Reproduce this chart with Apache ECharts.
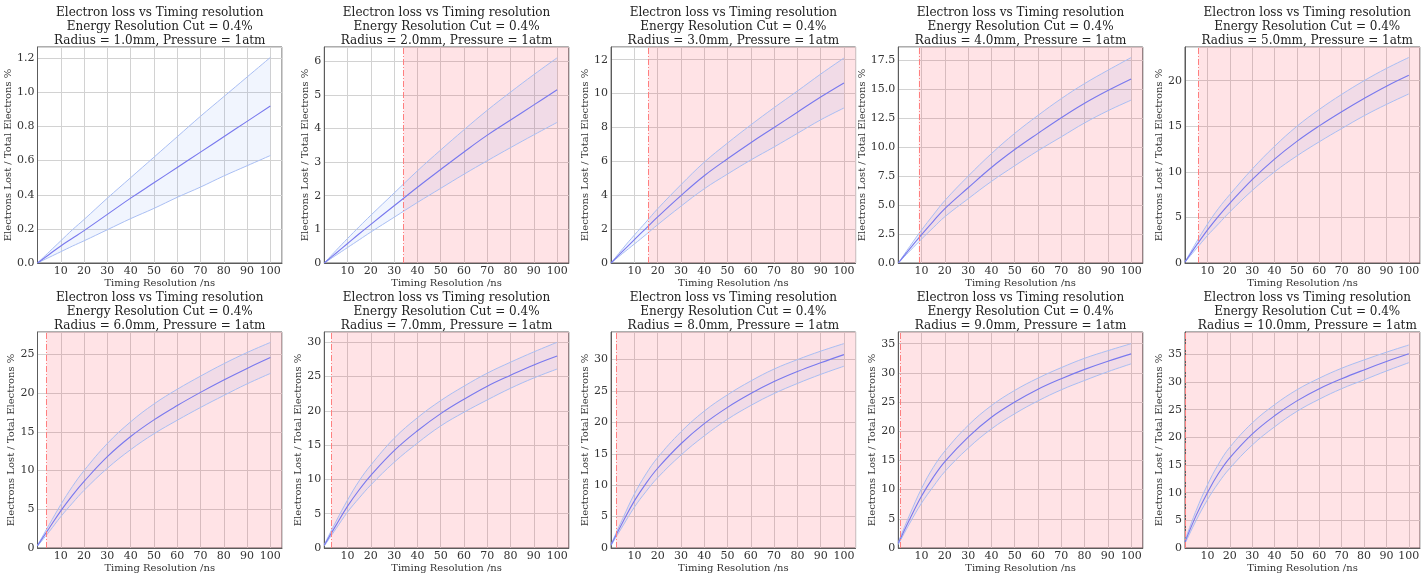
<!DOCTYPE html>
<html>
<head>
<meta charset="utf-8">
<script src="https://cdn.jsdelivr.net/npm/echarts@6/dist/echarts.min.js"></script>
<style>
  html, body { margin: 0; padding: 0; background: #ffffff; }
  #chart { width: 1423px; height: 574px; }
</style>
</head>
<body>
<div id="chart"></div>
<script>
// Timing resolution samples (ns)
const timingNs = [0, 5, 10, 15, 20, 30, 40, 50, 60, 70, 80, 90, 100];

// Chamber radius for each panel (mm)
const radiusMm = [1, 2, 3, 4, 5, 6, 7, 8, 9, 10];

// Electron loss (% of total electrons), one row per radius
const meanLoss = [
  [0, 0.05, 0.10, 0.145, 0.19, 0.285, 0.38, 0.47, 0.56, 0.65, 0.74, 0.83, 0.92],
  [0, 0.29, 0.58, 0.87, 1.15, 1.70, 2.25, 2.78, 3.30, 3.80, 4.25, 4.70, 5.15],
  [0, 0.70, 1.38, 2.05, 2.72, 3.98, 5.15, 6.15, 7.10, 8.00, 8.90, 9.80, 10.63],
  [0, 1.25, 2.45, 3.60, 4.70, 6.50, 8.25, 9.80, 11.20, 12.55, 13.80, 14.90, 15.90],
  [0.1, 1.9, 3.6, 5.15, 6.55, 9.15, 11.4, 13.35, 15.05, 16.6, 18.05, 19.4, 20.6],
  [0.3, 2.55, 4.8, 6.8, 8.6, 11.8, 14.4, 16.55, 18.4, 20.1, 21.7, 23.2, 24.6],
  [0.4, 3.3, 6.1, 8.5, 10.6, 14.2, 17.1, 19.6, 21.7, 23.6, 25.2, 26.7, 28.0],
  [0.5, 4.1, 7.5, 10.3, 12.7, 16.6, 19.8, 22.4, 24.6, 26.5, 28.1, 29.5, 30.8],
  [0.8, 5.0, 8.9, 12.1, 14.8, 19.0, 22.4, 25.0, 27.2, 29.0, 30.6, 32.0, 33.25],
  [1.1, 5.9, 10.0, 13.5, 16.3, 20.6, 23.9, 26.6, 28.8, 30.6, 32.2, 33.7, 35.1]
];

// Upper edge of the uncertainty band
const upperLoss = [
  [0, 0.065, 0.13, 0.195, 0.255, 0.38, 0.50, 0.62, 0.74, 0.86, 0.975, 1.09, 1.205],
  [0, 0.37, 0.73, 1.08, 1.42, 2.08, 2.74, 3.36, 3.96, 4.54, 5.08, 5.60, 6.10],
  [0, 0.85, 1.65, 2.42, 3.20, 4.62, 5.95, 7.08, 8.15, 9.17, 10.15, 11.15, 12.1],
  [0, 1.45, 2.85, 4.15, 5.40, 7.50, 9.45, 11.2, 12.75, 14.2, 15.5, 16.65, 17.75],
  [0.1, 2.25, 4.25, 6.0, 7.5, 10.3, 12.8, 15.0, 16.85, 18.5, 20.0, 21.35, 22.55],
  [0.35, 3.0, 5.6, 7.95, 10.0, 13.5, 16.3, 18.6, 20.5, 22.2, 23.8, 25.25, 26.55],
  [0.5, 3.85, 7.0, 9.8, 12.1, 16.0, 19.0, 21.5, 23.6, 25.5, 27.1, 28.6, 30.0],
  [0.6, 4.7, 8.6, 11.8, 14.4, 18.5, 21.8, 24.4, 26.6, 28.5, 30.0, 31.35, 32.55],
  [1.0, 5.8, 10.2, 13.8, 16.6, 21.0, 24.4, 27.0, 29.1, 30.9, 32.5, 33.8, 35.0],
  [1.4, 6.8, 11.4, 15.2, 18.2, 22.6, 25.9, 28.6, 30.7, 32.5, 34.0, 35.4, 36.7]
];

// Lower edge of the uncertainty band
const lowerLoss = [
  [0, 0.033, 0.066, 0.099, 0.13, 0.195, 0.26, 0.32, 0.385, 0.445, 0.51, 0.57, 0.63],
  [0, 0.23, 0.46, 0.69, 0.92, 1.36, 1.80, 2.22, 2.64, 3.04, 3.43, 3.81, 4.18],
  [0, 0.57, 1.12, 1.68, 2.26, 3.35, 4.38, 5.25, 6.08, 6.85, 7.65, 8.45, 9.15],
  [0, 1.05, 2.07, 3.05, 4.0, 5.55, 7.05, 8.4, 9.7, 10.9, 12.1, 13.15, 14.07],
  [0.1, 1.55, 3.0, 4.3, 5.6, 7.95, 10.0, 11.75, 13.3, 14.75, 16.15, 17.4, 18.55],
  [0.25, 2.1, 4.05, 5.8, 7.45, 10.3, 12.7, 14.75, 16.5, 18.15, 19.7, 21.2, 22.55],
  [0.3, 2.8, 5.25, 7.3, 9.2, 12.5, 15.3, 17.8, 19.8, 21.6, 23.3, 24.8, 26.1],
  [0.4, 3.5, 6.5, 9.0, 11.2, 14.8, 17.85, 20.5, 22.7, 24.6, 26.2, 27.65, 28.95],
  [0.6, 4.3, 7.7, 10.5, 13.1, 17.1, 20.4, 23.0, 25.2, 27.1, 28.7, 30.2, 31.55],
  [0.8, 5.0, 8.7, 11.8, 14.4, 18.6, 21.9, 24.7, 26.9, 28.8, 30.4, 32.0, 33.5]
];

// Timing resolution above which the loss exceeds the cut (null: never reached)
const cutTimingNs = [null, 34, 16, 8.8, 6.0, 3.8, 3.0, 2.1, 0.8, 0.3];

// Y tick spacing and top of the y range per panel
const yTickStep = [0.2, 1, 2, 2.5, 5, 5, 5, 5, 5, 5];
const yAxisTop = [1.266, 6.42, 12.75, 18.66, 23.7, 27.9, 31.5, 34.4, 37.0, 39.05];

// X range and ticks
const xAxisMax = 105;
const xTickStep = 10;

// ---- layout ----
const FONT = '"DejaVu Serif", "Liberation Serif", serif';
const colLeft = [37.5, 324.3, 611.1, 898.3, 1185];
const rowTop = [47, 332];
const plotW = 244.5;
const plotH = 216;
const SMOOTH = 0.4;

const measureCtx = document.createElement('canvas').getContext('2d');
measureCtx.font = '11px ' + FONT;

const chart = echarts.init(document.getElementById('chart'), null, { renderer: 'canvas' });

const grids = [], xAxes = [], yAxes = [], titles = [], series = [];

radiusMm.forEach((r, i) => {
  const col = i % 5, row = Math.floor(i / 5);
  const left = colLeft[col], top = rowTop[row];

  grids.push({
    left: left, top: top, width: plotW, height: plotH,
    show: true, borderColor: '#5c5c5c', borderWidth: 1, backgroundColor: 'transparent'
  });

  titles.push({
    text: 'Electron loss vs Timing resolution\nEnergy Resolution Cut = 0.4%\nRadius = ' +
          r.toFixed(1) + 'mm, Pressure = 1atm',
    left: left + plotW / 2,
    top: top - 41,
    textAlign: 'center',
    padding: 0,
    textStyle: { fontFamily: FONT, fontSize: 12, lineHeight: 14, fontWeight: 'normal', color: '#222222' }
  });

  xAxes.push({
    gridIndex: i, type: 'value', min: 0, max: xAxisMax, interval: xTickStep,
    axisLine: { show: true, lineStyle: { color: '#5c5c5c', width: 1 } },
    axisTick: { show: false },
    splitLine: { show: true, lineStyle: { color: '#d2d2d2', width: 1 } },
    axisLabel: {
      fontFamily: FONT, fontSize: 11, color: '#333333', margin: 3,
      formatter: v => (v >= 10 && v <= 100) ? String(v) : ''
    },
    name: 'Timing Resolution /ns', nameLocation: 'middle', nameGap: 15,
    nameTextStyle: { fontFamily: FONT, fontSize: 10, color: '#333333' }
  });

  const step = yTickStep[i];
  const dec = Number.isInteger(step) ? 0 : 1;
  const lastTick = Math.floor(yAxisTop[i] / step + 1e-9) * step;
  let maxW = 0;
  for (let v = 0; v <= lastTick + 1e-9; v += step) {
    maxW = Math.max(maxW, measureCtx.measureText(v.toFixed(dec)).width);
  }
  yAxes.push({
    gridIndex: i, type: 'value', min: 0, max: yAxisTop[i], interval: step,
    axisLine: { show: true, lineStyle: { color: '#5c5c5c', width: 1 } },
    axisTick: { show: false },
    splitLine: { show: true, lineStyle: { color: '#d2d2d2', width: 1 } },
    axisLabel: {
      fontFamily: FONT, fontSize: 11, color: '#333333', margin: 3,
      formatter: v => (v > lastTick + 1e-9) ? '' : v.toFixed(dec)
    },
    name: 'Electrons Lost / Total Electrons %', nameLocation: 'middle',
    nameGap: maxW + 2.5,
    nameTextStyle: { fontFamily: FONT, fontSize: 10, color: '#333333' }
  });

  // Band points are stored as [value, time] so the stacked dimension is the loss value.
  const lowerPts = timingNs.map((t, k) => [lowerLoss[i][k], t]);
  const widthPts = timingNs.map((t, k) => [upperLoss[i][k] - lowerLoss[i][k], t]);
  const meanPts = timingNs.map((t, k) => [t, meanLoss[i][k]]);
  const edgeStyle = { color: '#a9bef3', width: 1 };

  const lowerSeries = {
    type: 'line', xAxisIndex: i, yAxisIndex: i, data: lowerPts,
    encode: { x: 1, y: 0 },
    stack: 'band' + i, symbol: 'none', smooth: SMOOTH,
    lineStyle: edgeStyle, z: 2, silent: true
  };
  const cut = cutTimingNs[i];
  if (cut !== null) {
    lowerSeries.markArea = {
      silent: true, z: 1,
      itemStyle: { color: 'rgba(255, 40, 60, 0.13)' },
      data: [[{ xAxis: cut }, { xAxis: xAxisMax }]]
    };
    lowerSeries.markLine = {
      silent: true, symbol: ['none', 'none'], label: { show: false },
      lineStyle: { color: '#ff7f7f', width: 1, type: [6, 2, 1, 2] },
      data: [{ xAxis: cut }]
    };
  }
  series.push(lowerSeries);

  series.push({
    type: 'line', xAxisIndex: i, yAxisIndex: i, data: widthPts,
    encode: { x: 1, y: 0 },
    stack: 'band' + i, symbol: 'none', smooth: SMOOTH,
    lineStyle: edgeStyle, z: 2, silent: true,
    areaStyle: { color: 'rgba(100, 140, 240, 0.13)' }
  });

  series.push({
    type: 'line', xAxisIndex: i, yAxisIndex: i, data: meanPts,
    symbol: 'none', smooth: SMOOTH,
    lineStyle: { color: '#7878ee', width: 1.1 }, z: 3, silent: true
  });
});

chart.setOption({
  animation: false,
  backgroundColor: '#ffffff',
  textStyle: { fontFamily: FONT },
  title: titles,
  grid: grids,
  xAxis: xAxes,
  yAxis: yAxes,
  series: series
});
</script>
</body>
</html>
